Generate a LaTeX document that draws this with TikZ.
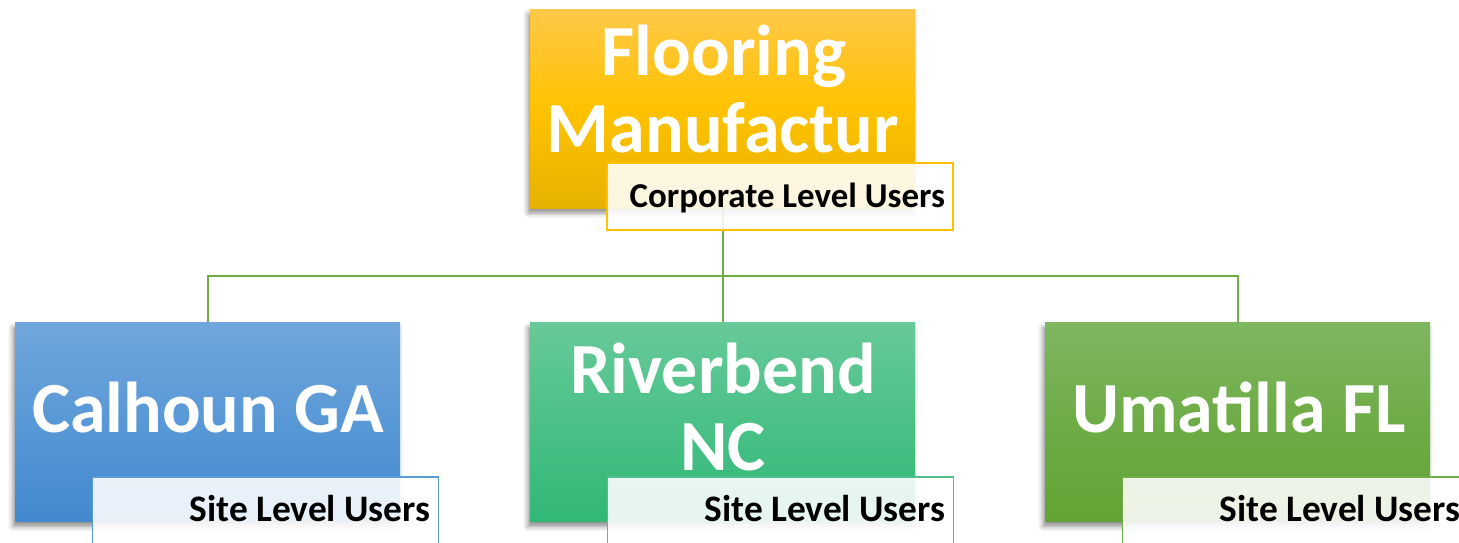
\documentclass[tikz,border=0pt]{standalone}
\usepackage{fontspec}
\setmainfont{Carlito}
\usetikzlibrary{shadows.blur,backgrounds}

\definecolor{goldTop}{RGB}{255,200,72}
\definecolor{goldMid}{RGB}{255,194,0}
\definecolor{goldBot}{RGB}{230,178,0}
\definecolor{goldLine}{RGB}{255,192,0}
\definecolor{blueTop}{RGB}{112,166,220}
\definecolor{blueMid}{RGB}{88,152,214}
\definecolor{blueBot}{RGB}{66,137,205}
\definecolor{blueLine}{RGB}{91,155,213}
\definecolor{tealTop}{RGB}{104,201,152}
\definecolor{tealMid}{RGB}{74,193,135}
\definecolor{tealBot}{RGB}{50,183,118}
\definecolor{tealLine}{RGB}{80,192,140}
\definecolor{leafTop}{RGB}{127,182,96}
\definecolor{leafMid}{RGB}{110,172,70}
\definecolor{leafBot}{RGB}{98,163,52}
\definecolor{leafLine}{RGB}{112,173,71}

\tikzset{
  mainbox/.style={rectangle, minimum width=385pt, minimum height=199pt,
    inner sep=0pt, draw=none,
    blur shadow={shadow xshift=-2pt, shadow yshift=-5pt,
                 shadow blur radius=5pt, shadow opacity=45}},
  titletext/.style={anchor=base, text=white, inner sep=0pt,
    font=\fontsize{72}{72}\selectfont\bfseries},
  userlabel/.style={rectangle, fill=white, fill opacity=0.88, text opacity=1,
    line width=1.5pt, text width=330pt, inner xsep=8pt, inner ysep=0pt,
    minimum height=67pt, align=flush right, text height=26pt, text depth=5pt,
    font=\fontsize{37.4}{37.4}\selectfont\bfseries},
  conn/.style={draw=leafLine, line width=2pt}
}

\begin{document}
\begin{tikzpicture}[x=1pt,y=-1pt]
\useasboundingbox (0,0) rectangle (1459,542);

% organisation boxes
\node[mainbox, top color=goldTop, bottom color=goldBot, middle color=goldMid] (top) at (722.5,108.5) {};
\node[mainbox, top color=blueTop, bottom color=blueBot, middle color=blueMid] (calhoun) at (207.5,422) {};
\node[mainbox, top color=tealTop, bottom color=tealBot, middle color=tealMid] (riverbend) at (722.5,422) {};
\node[mainbox, top color=leafTop, bottom color=leafBot, middle color=leafMid] (umatilla) at (1237.5,422) {};

% box titles
\node[titletext] (topA) at (724,75) {Flooring};
\node[titletext] (topB) at (723,152) {Manufactur};
\node[titletext] (calhounT) at (208,432) {Calhoun GA};
\node[titletext] (riverA) at (723,393) {Riverbend};
\node[titletext] (riverB) at (723,470) {NC};
\node[titletext] (umatillaT) at (1239,432) {Umatilla FL};

% tree connectors
\coordinate (bus) at (722.5,276);
\begin{pgfonlayer}{background}
\draw[conn] (top.south) -- (bus) -| (calhoun.north);
\draw[conn] (bus) -| (umatilla.north);
\draw[conn] (bus) -- (riverbend.north);
\end{pgfonlayer}

% user level tags
\node[userlabel, draw=goldLine, font=\fontsize{34.9}{34.9}\selectfont\bfseries] (topTag) at (780,196.5) {Corporate Level Users};
\node[userlabel, draw=blueLine] (calhounTag) at (265.5,510.5) {Site Level Users};
\node[userlabel, draw=tealLine] (riverTag) at (780.5,510.5) {Site Level Users};
\node[userlabel, draw=leafLine] (umatillaTag) at (1295.5,510.5) {Site Level Users};
\end{tikzpicture}
\end{document}
